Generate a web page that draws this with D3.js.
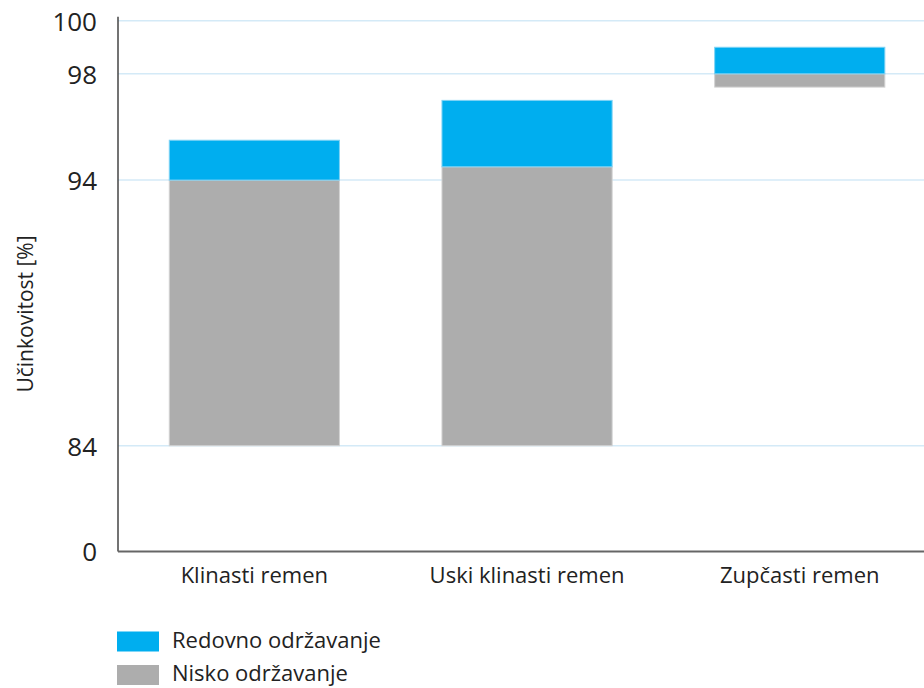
<!DOCTYPE html>
<html>
<head>
<meta charset="utf-8">
<script src="https://cdn.jsdelivr.net/npm/d3@7"></script>
<style>
  html, body { margin: 0; padding: 0; background: #fff; }
  svg { display: block; font-family: "Open Sans", "Noto Sans", sans-serif; }
</style>
</head>
<body>
<svg id="chart" width="924" height="688"></svg>
<script>
const categories = ["Klinasti remen", "Uski klinasti remen", "Zupčasti remen"];
const lowValues = [84, 84, 97.5];        // start of "Nisko održavanje"
const midValues = [94, 94.5, 98];        // top of "Nisko održavanje" / start of "Redovno održavanje"
const highValues = [95.5, 97, 99];       // top of "Redovno održavanje"
const tickValues = [0, 84, 94, 98, 100];
const seriesNames = ["Redovno održavanje", "Nisko održavanje"];
const seriesColors = ["#00aeef", "#adadad"];
const seriesStrokes = ["#7fd3f5", "#d2d2d2"];

const svg = d3.select("#chart");
const plotLeft = 118, plotTop = 20.7, plotBottom = 551.5;

// piecewise (broken) y scale: 0..84 compressed, 84..100 linear
const y = d3.scaleLinear().domain([0, 84, 100]).range([plotBottom, 445.7, plotTop]);
const x = d3.scaleBand().domain(categories).range([plotLeft, plotLeft + 3 * 272.7]).paddingInner(0.376).paddingOuter(0.188);

// gridlines
svg.append("g").selectAll("line").data(tickValues.filter(d => d > 0)).join("line")
  .attr("x1", plotLeft).attr("x2", 924)
  .attr("y1", d => y(d)).attr("y2", d => y(d))
  .attr("stroke", "#d4eaf7").attr("stroke-width", 1.5);

// bars
const data = categories.map((c, i) => ({c, low: lowValues[i], mid: midValues[i], high: highValues[i]}));
const g = svg.append("g");
g.selectAll("rect.low").data(data).join("rect").attr("class", "low")
  .attr("x", d => x(d.c)).attr("width", x.bandwidth())
  .attr("y", d => y(d.mid)).attr("height", d => y(d.low) - y(d.mid))
  .attr("fill", seriesColors[1]).attr("stroke", seriesStrokes[1]).attr("stroke-width", 1);
g.selectAll("rect.high").data(data).join("rect").attr("class", "high")
  .attr("x", d => x(d.c)).attr("width", x.bandwidth())
  .attr("y", d => y(d.high)).attr("height", d => y(d.mid) - y(d.high))
  .attr("fill", seriesColors[0]).attr("stroke", seriesStrokes[0]).attr("stroke-width", 1);

// y axis
const yAxis = svg.append("g").attr("transform", `translate(${plotLeft},0)`)
  .call(d3.axisLeft(y).tickValues(tickValues).tickSize(0).tickPadding(21).tickFormat(d3.format("d")));
yAxis.select(".domain").attr("stroke", "#444").attr("stroke-width", 1.5)
  .attr("d", `M0,${plotTop - 4}V${plotBottom}`);
yAxis.selectAll("text").attr("font-size", 26).attr("fill", "#222")
  .attr("font-family", "'Open Sans', sans-serif").attr("dy", "0.36em");

// x axis
const xAxis = svg.append("g").attr("transform", `translate(0,${plotBottom})`)
  .call(d3.axisBottom(x).tickSize(0).tickPadding(16));
xAxis.select(".domain").attr("stroke", "#666").attr("stroke-width", 2)
  .attr("d", `M${plotLeft},0H924`);
xAxis.selectAll("text").attr("font-size", 22).attr("fill", "#222")
  .attr("font-family", "'Open Sans', sans-serif").attr("dy", "0.71em");

// y axis title
svg.append("text").attr("transform", "translate(33,314) rotate(-90)")
  .attr("text-anchor", "middle").attr("font-size", 21).attr("fill", "#222")
  .text("Učinkovitost [%]");

// legend
const legend = svg.append("g");
seriesNames.forEach((name, i) => {
  const ly = 631.5 + i * 33.5;
  legend.append("rect").attr("x", 117).attr("y", ly).attr("width", 42).attr("height", 20)
    .attr("fill", seriesColors[i]);
  legend.append("text").attr("x", 172).attr("y", ly + 16)
    .attr("font-size", 22).attr("fill", "#222").text(name);
});
</script>
</body>
</html>
